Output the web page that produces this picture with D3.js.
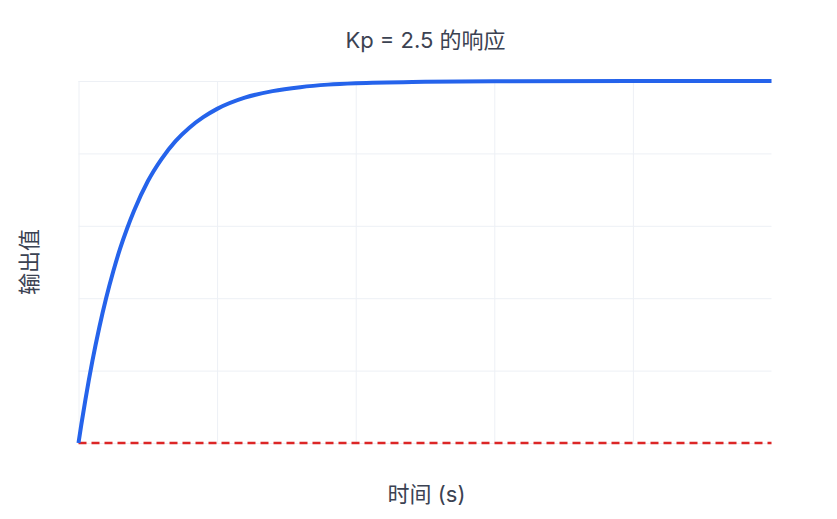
<!DOCTYPE html>
<html>
<head>
<meta charset="utf-8">
<script src="https://cdn.jsdelivr.net/npm/d3@7"></script>
<style>
  html, body { margin: 0; padding: 0; background: #ffffff; }
  svg { display: block; }
  text { font-family: Inter, "Noto Sans CJK SC", sans-serif; fill: #3b4252; }
</style>
</head>
<body>
<svg id="chart" width="837" height="519"></svg>
<script>
// ---- data ----
const titleText = "Kp = 2.5 的响应";
const xLabel = "时间 (s)";
const yLabel = "输出值";
const times   = [0, 0.02, 0.05, 0.1, 0.15, 0.2, 0.25, 0.3, 0.35, 0.4, 0.5, 0.6, 0.7, 0.8, 0.9, 1.0, 1.2, 1.4, 1.6, 1.8, 2.0, 2.5, 3.0, 4.0, 5.0];
const outputs = [0, 0.050, 0.120, 0.226, 0.319, 0.401, 0.473, 0.537, 0.592, 0.641, 0.723, 0.785, 0.834, 0.871, 0.900, 0.923, 0.954, 0.972, 0.983, 0.990, 0.994, 0.998, 0.9995, 1.0, 1.0];
const refTimes  = [0, 5];
const refValues = [0, 0];
const xTicks = [0, 1, 2, 3, 4, 5];
const yTicks = [0, 0.2, 0.4, 0.6, 0.8, 1.0];

// ---- layout ----
const W = 837, H = 519;
const m = { left: 78.5, right: 837 - 771.5, top: 81, bottom: 519 - 443 };
const svg = d3.select("#chart");

const x = d3.scaleLinear().domain([0, 5]).range([m.left, W - m.right]);
const y = d3.scaleLinear().domain([0, 1]).range([H - m.bottom, m.top]);

// grid
const grid = svg.append("g");
grid.append("g")
  .attr("transform", `translate(0,${H - m.bottom})`)
  .call(d3.axisBottom(x).tickValues(xTicks.slice(0, -1)).tickSize(-(H - m.top - m.bottom)).tickFormat(""))
  .call(g => g.select(".domain").remove())
  .call(g => g.selectAll("line").attr("stroke", "#edf0f5").attr("stroke-width", 1));
grid.append("g")
  .attr("transform", `translate(${m.left},0)`)
  .call(d3.axisLeft(y).tickValues(yTicks).tickSize(-(W - m.left - m.right)).tickFormat(""))
  .call(g => g.select(".domain").remove())
  .call(g => g.selectAll("line").attr("stroke", "#edf0f5").attr("stroke-width", 1));

// reference dashed line
svg.append("path")
  .datum(refTimes.map((t, i) => [t, refValues[i]]))
  .attr("fill", "none")
  .attr("stroke", "#dc2626")
  .attr("stroke-width", 2.5)
  .attr("stroke-dasharray", "8,5")
  .attr("d", d3.line().x(d => x(d[0])).y(d => y(d[1])));

// response curve
svg.append("path")
  .datum(times.map((t, i) => [t, outputs[i]]))
  .attr("fill", "none")
  .attr("stroke", "#2563eb")
  .attr("stroke-width", 4)
  .attr("stroke-linejoin", "round")
  .attr("d", d3.line().curve(d3.curveMonotoneX).x(d => x(d[0])).y(d => y(d[1])));

// texts
svg.append("text")
  .attr("x", 425.5).attr("y", 47.5)
  .attr("text-anchor", "middle")
  .attr("font-size", 22)
  .text(titleText);

svg.append("text")
  .attr("x", 426.5).attr("y", 502)
  .attr("text-anchor", "middle")
  .attr("font-size", 22)
  .text(xLabel);

svg.append("text")
  .attr("transform", `translate(37,262) rotate(-90)`)
  .attr("text-anchor", "middle")
  .attr("font-size", 22)
  .text(yLabel);
</script>
</body>
</html>
